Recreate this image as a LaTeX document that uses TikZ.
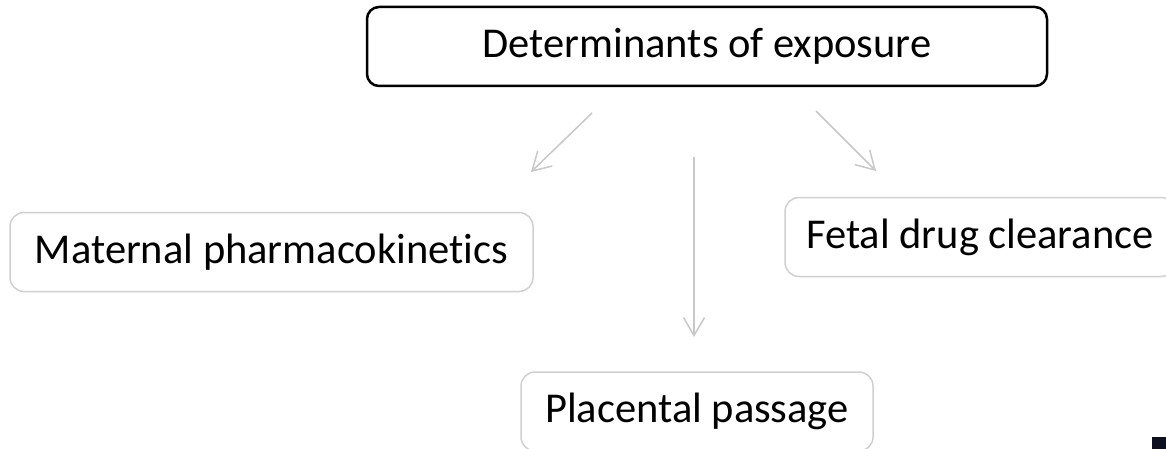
\documentclass[tikz,border=0pt]{standalone}
\usepackage{fontspec}
\setmainfont{Carlito}[Ligatures={NoCommon}]
\usetikzlibrary{arrows.meta}
\definecolor{boxgray}{RGB}{208,208,208}
\definecolor{arrowgray}{RGB}{200,200,200}
\definecolor{markblue}{RGB}{12,16,32}
\begin{document}
\begin{tikzpicture}[x=1pt, y=1pt,
    topbox/.style={draw=black, line width=2.5, rounded corners=12, minimum width=680, minimum height=79, font=\fontsize{42.5}{50}\selectfont},
    subbox/.style={draw=boxgray, line width=1.5, rounded corners=14, minimum height=79, font=\fontsize{42.5}{50}\selectfont},
    link/.style={arrowgray, line width=1.5, -{Straight Barb[length=18, width=21]}}]
      \useasboundingbox (0,0) rectangle (1166,-449);
      \node[topbox] (T) at (707,-46.5) {Determinants of exposure};
      \node[subbox, minimum width=523] (M) at (271.5,-252) {Maternal pharmacokinetics};
      \node[subbox, minimum width=390] (F) at (980,-237) {Fetal drug clearance};
      \node[subbox, minimum width=352] (P) at (697,-411.5) {Placental passage};
      \coordinate (A1) at (592,-113);
      \coordinate (B1) at (531,-172);
      \coordinate (A2) at (694,-157);
      \coordinate (B2) at (694,-337);
      \coordinate (A3) at (816,-111);
      \coordinate (B3) at (876,-171);
      \draw[link] (A1) -- (B1);
      \draw[link] (A2) -- (B2);
      \draw[link] (A3) -- (B3);
      \fill[markblue] (1152,-437) rectangle (1166,-449);
    \end{tikzpicture}
\end{document}
